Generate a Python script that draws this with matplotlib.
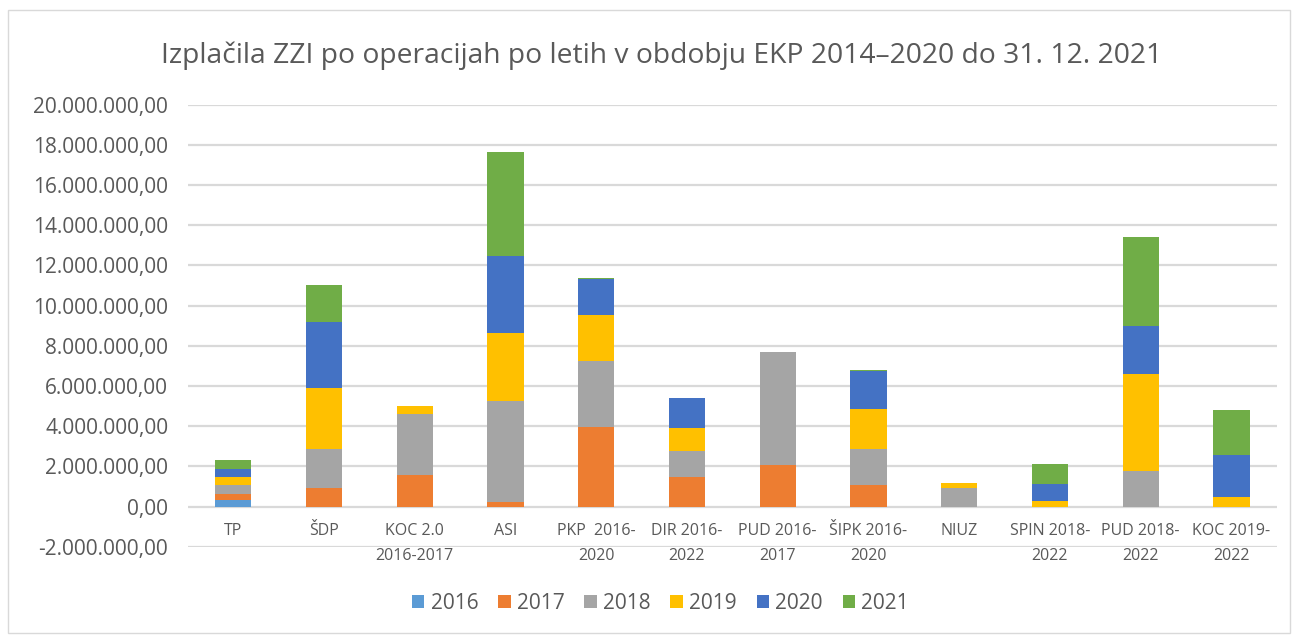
import matplotlib.pyplot as plt
import matplotlib.ticker as mticker
from matplotlib.patches import Rectangle
import numpy as np

plt.rcParams['font.family'] = ['Open Sans', 'DejaVu Sans']

categories = ['TP', 'ŠDP', 'KOC 2.0\n2016-2017', 'ASI', 'PKP  2016-\n2020',
              'DIR 2016-\n2022', 'PUD 2016-\n2017', 'ŠIPK 2016-\n2020', 'NIUZ',
              'SPIN 2018-\n2022', 'PUD 2018-\n2022', 'KOC 2019-\n2022']
years = ['2016', '2017', '2018', '2019', '2020', '2021']

# izplačila po letih (EUR)
v2016 = [320000, 0, 0, 0, 0, 0, 0, 0, 0, 0, 0, 0]
v2017 = [310000, 900000, 1550000, 250000, 3950000, 1460000, 2050000, 1050000, 0, 0, 0, 0]
v2018 = [430000, 1950000, 3050000, 5020000, 3300000, 1310000, 5650000, 1820000, 900000, 0, 1750000, 0]
v2019 = [420000, 3050000, 400000, 3380000, 2300000, 1150000, 0, 2010000, 270000, 280000, 4870000, 480000]
v2020 = [410000, 3300000, 0, 3800000, 1800000, 1470000, 0, 1890000, 0, 820000, 2380000, 2100000]
v2021 = [410000, 1850000, 0, 5200000, 50000, 30000, 0, 40000, 0, 1030000, 4430000, 2240000]

series = [v2016, v2017, v2018, v2019, v2020, v2021]
colors = ['#5b9bd5', '#ed7d31', '#a5a5a5', '#ffc000', '#4472c4', '#70ad47']
txt = '#595959'

fig = plt.figure(figsize=(12.95, 6.35), dpi=100)
fig.patches.append(Rectangle((0.006, 0.003), 0.99, 0.982, transform=fig.transFigure,
                             fill=False, edgecolor='#d9d9d9', linewidth=1))
ax = fig.add_axes([0.145, 0.139, 0.841, 0.696])

x = np.arange(len(categories))
bottom = np.zeros(len(categories))
for yr, vals, c in zip(years, series, colors):
    ax.bar(x, vals, 0.4, bottom=bottom, color=c, label=yr, zorder=3)
    bottom += np.array(vals)

ax.set_xlim(-0.5, len(categories) - 0.5)
ax.set_ylim(-2000000, 20000000)
ax.set_yticks(np.arange(-2000000, 20000001, 2000000))
ax.yaxis.set_major_formatter(mticker.FuncFormatter(
    lambda v, p: '{:,.2f}'.format(v).replace(',', 'X').replace('.', ',').replace('X', '.')))
ax.grid(axis='y', color='#d9d9d9', linewidth=1.6, zorder=0)
for s in ax.spines.values():
    s.set_visible(False)
# kategorije ob osi pri 0, kot v Excelu
ax.spines['bottom'].set_position(('data', 0))
ax.tick_params(length=0, colors=txt)
ax.tick_params(axis='y', labelsize=15, pad=14)
ax.set_xticks(x)
ax.set_xticklabels(categories, fontsize=11.5, color=txt, linespacing=1.75)
ax.tick_params(axis='x', pad=12)

ax.set_title('Izplačila ZZI po operacijah po letih v obdobju EKP 2014–2020 do 31. 12. 2021',
             fontsize=20.3, color=txt, pad=30, x=0.435)

fig.legend(loc='center', bbox_to_anchor=(0.51, 0.05), ncol=6, frameon=False,
           fontsize=15, labelcolor=txt, handlelength=0.6, handleheight=0.6,
           handletextpad=0.3, columnspacing=0.95)

plt.savefig('out.png')
